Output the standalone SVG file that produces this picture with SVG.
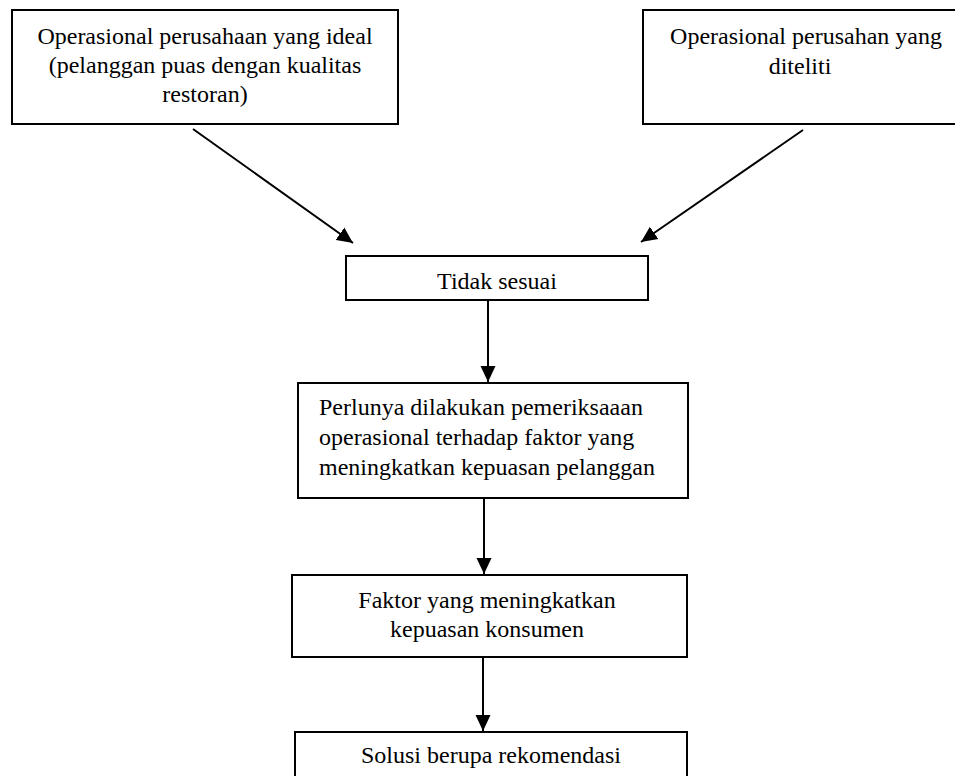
<svg xmlns="http://www.w3.org/2000/svg" width="955" height="776" viewBox="0 0 955 776">
<defs>
<style>
.box{fill:#fff;stroke:#000;stroke-width:2}
.t{font-family:"Liberation Serif","Times New Roman",serif;font-size:24px;fill:#000}
.c{text-anchor:middle}
.edge{stroke:#000;stroke-width:2;fill:none;marker-end:url(#ah)}
</style>
<marker id="ah" markerUnits="userSpaceOnUse" markerWidth="16" markerHeight="16" refX="16" refY="7.5" orient="auto" viewBox="0 0 16 15">
<path d="M0,0 L16,7.5 L0,15 z" fill="#000"/>
</marker>
</defs>
<rect width="955" height="776" fill="#fff"/>
<g id="connectors">
<line class="edge" x1="193" y1="129" x2="353" y2="243"/>
<line class="edge" x1="803" y1="130" x2="641" y2="242"/>
<line class="edge" x1="488" y1="300" x2="488" y2="382"/>
<line class="edge" x1="484" y1="498" x2="484" y2="574"/>
<line class="edge" x1="483" y1="657" x2="483" y2="731"/>
</g>
<g id="n1">
<rect class="box" x="12" y="10" width="386" height="114"/>
<text class="t c" x="205" y="44">Operasional perusahaan yang ideal</text>
<text class="t c" x="205" y="73">(pelanggan puas dengan kualitas</text>
<text class="t c" x="205" y="102">restoran)</text>
</g>
<g id="n2">
<rect class="box" x="643" y="10" width="338" height="114"/>
<text class="t c" x="806" y="44">Operasional perusahan yang</text>
<text class="t c" x="800" y="74">diteliti</text>
</g>
<g id="n3">
<rect class="box" x="346" y="256" width="302" height="44"/>
<text class="t c" x="497" y="289">Tidak sesuai</text>
</g>
<g id="n4">
<rect class="box" x="298" y="383" width="390" height="115"/>
<text class="t" x="319" y="415">Perlunya dilakukan pemeriksaaan</text>
<text class="t" x="319" y="445">operasional terhadap faktor yang</text>
<text class="t" x="319" y="475">meningkatkan kepuasan pelanggan</text>
</g>
<g id="n5">
<rect class="box" x="292" y="575" width="395" height="82"/>
<text class="t c" x="487" y="608">Faktor yang meningkatkan</text>
<text class="t c" x="487" y="637">kepuasan konsumen</text>
</g>
<g id="n6">
<rect class="box" x="295" y="732" width="392" height="70"/>
<text class="t c" x="491" y="763">Solusi berupa rekomendasi</text>
</g>
</svg>
